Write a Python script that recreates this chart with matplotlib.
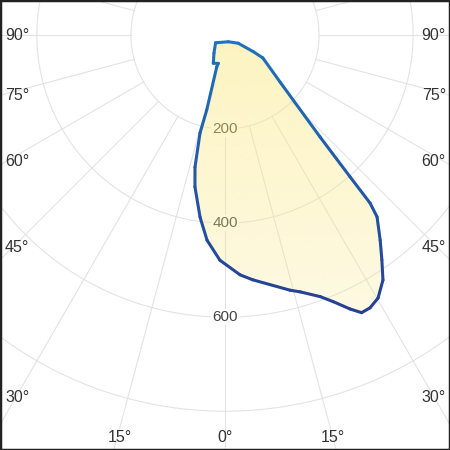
import numpy as np
import matplotlib
matplotlib.use("Agg")
import matplotlib.pyplot as plt
from matplotlib.collections import LineCollection
from matplotlib.patches import Rectangle

plt.rcParams["font.family"] = ["Liberation Sans", "DejaVu Sans"]

# luminous intensity (cd) per gamma angle, in outline order (+ = right side)
gamma = [-50.4, -31.4, -22.5, -13.3, -14.5, -13.7, -14.3, -12.8, -11.2, -7.8,
         -5.0, -1.3, 3.6, 6.5, 14.3, 16.3, 20.0, 22.1, 24.5, 26.2, 28.0,
         30.2, 32.8, 34.9, 37.1, 39.9, 40.8, 41.4, 43.0, 49.5, 58.8, 59.5,
         58.0, 26.2]
intensity = [26, 45, 65, 62, 70, 164, 215, 288, 329, 391,
             438, 479, 511, 524, 560, 569, 592, 612, 640, 658, 657,
             647, 620, 583, 547, 504, 472, 402, 296, 154, 94, 70,
             33, 16]

ring_values = [200, 400, 600, 800, 1000]
ring_labels = ["200", "400", "600"]
spoke_angles = list(range(0, 360, 15))
side_labels = ["90°", "75°", "60°", "45°", "30°"]
bottom_labels = ["15°", "0°", "15°"]

# layout (pixels, from top-left of a 450x450 picture)
W = H = 450
cx, cy = 225, 35
px_per_cd = 0.4703
rmax = 1060
R = rmax * px_per_cd
side_y = [35, 95, 161, 248, 398]
bottom_x = [120, 225, 333]
bottom_y = 437

fig = plt.figure(figsize=(4.5, 4.5), dpi=100)
fig.patch.set_facecolor("white")
ax = fig.add_axes([(cx - R) / W, (H - cy - R) / H, 2 * R / W, 2 * R / H],
                  projection="polar")
ax.set_theta_zero_location("S")
ax.grid(False)
ax.set_xticks([])
ax.set_yticks([])
ax.spines["polar"].set_visible(False)

grid_kw = dict(color="#e3e3e3", lw=0.8, zorder=1)
tt = np.linspace(0, 2 * np.pi, 720)
for v in ring_values:
    ax.plot(tt, np.full_like(tt, v), **grid_kw)
for a in spoke_angles:
    ax.plot([np.deg2rad(a)] * 2, [ring_values[0], rmax + 200], **grid_kw)

for lab in ring_labels:
    ax.text(0, float(lab), lab, ha="center", va="center", fontsize=11,
            color="#444444", zorder=1.5,
            bbox=dict(fc="white", ec="none", pad=0.5))

th = np.deg2rad(gamma)
rr = np.array(intensity, dtype=float)

# gradient fill clipped to the curve
poly = ax.fill(th, rr, facecolor="none", edgecolor="none", zorder=2)[0]
n = 500
v = np.linspace(0, 1, n)
depth = (0.5 - v) * 2 * rmax
img = np.zeros((n, 1, 4))
img[..., 0] = 251 / 255
img[..., 1] = 232 / 255
img[..., 2] = 130 / 255
img[:, 0, 3] = np.interp(depth, [0, 660], [0.5, 0.2])
im = ax.imshow(img, extent=[0, 1, 0, 1], transform=ax.transAxes,
               origin="lower", aspect="auto", interpolation="bilinear", zorder=2)
im.set_clip_path(poly)
ax.set_xlim(0, 2 * np.pi)
ax.set_ylim(0, rmax)
ax.set_aspect("equal")

# outline with top-to-bottom colour shift
tc = np.append(th, th[0])
rc = np.append(rr, rr[0])
pts = np.column_stack([tc, rc])
segs = np.stack([pts[:-1], pts[1:]], axis=1)
mid_depth = 0.5 * (rc[:-1] * np.cos(tc[:-1]) + rc[1:] * np.cos(tc[1:]))
f = np.clip(mid_depth / 660, 0, 1)[:, None]
top_c = np.array([0x1d, 0x74, 0xbe]) / 255
bot_c = np.array([0x27, 0x38, 0x8f]) / 255
cols = top_c * (1 - f) + bot_c * f
lc = LineCollection(segs, colors=cols, linewidths=2.2, zorder=3,
                    capstyle="round", joinstyle="round")
ax.add_collection(lc)

# angle labels round the picture edge
for lab, y in zip(side_labels, side_y):
    fig.text(5 / W, 1 - y / H, lab, ha="left", va="center", fontsize=11.5, color="#333333")
    fig.text(446 / W, 1 - y / H, lab, ha="right", va="center", fontsize=11.5, color="#333333")
for lab, x in zip(bottom_labels, bottom_x):
    fig.text(x / W, 1 - bottom_y / H, lab, ha="center", va="center", fontsize=11.5, color="#333333")

fig.add_artist(Rectangle((0, 0), 1, 1, transform=fig.transFigure, fill=False,
                         ec="#222222", lw=2.5, clip_on=False))

fig.savefig("out.png", dpi=100)
